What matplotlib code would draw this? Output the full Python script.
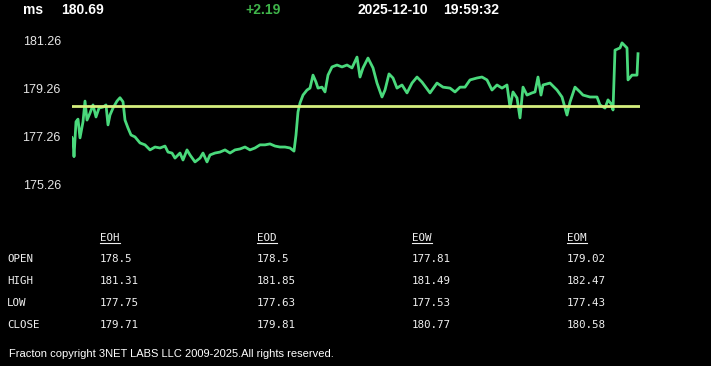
import matplotlib.pyplot as plt
from matplotlib.lines import Line2D

# header
symbol = "ms"
last_price = "180.69"
change = "+2.19"
date_str = "2025-12-10"
time_str = "19:59:32"

# price trace (t = sample step, price)
t = [0, 1, 2, 4, 6, 8, 11, 13, 15, 18, 21, 24, 27, 31, 34, 36, 38, 41, 45, 48,
     51, 53, 56, 59, 63, 68, 73, 78, 83, 88, 93, 96, 100, 103, 108, 111, 115, 118,
     123, 128, 131, 135, 138, 143, 148, 153, 158, 163, 168, 173, 178, 183, 188, 193,
     198, 203, 208, 213, 218, 222, 224, 226, 228, 231, 235, 238, 241, 244, 246, 250,
     253, 256, 260, 265, 270, 275, 280, 285, 288, 291, 296, 301, 305, 310, 313, 317,
     321, 325, 330, 335, 340, 345, 350, 358, 365, 371, 378, 383, 388, 393, 398, 405,
     410, 415, 420, 425, 430, 435, 438, 441, 445, 448, 451, 455, 460, 463, 466, 469,
     471, 478, 485, 490, 495, 498, 503, 508, 511, 518, 525, 528, 533, 536, 540, 541,
     543, 548, 550, 555, 556, 560, 565, 566]
price = [177.20, 177.10, 176.41, 177.86, 177.97, 177.19, 177.86, 178.72, 177.93, 178.22,
         178.56, 178.06, 178.43, 178.47, 178.56, 177.73, 178.14, 178.43, 178.72, 178.86,
         178.69, 177.93, 177.60, 177.31, 177.23, 176.98, 176.90, 176.69, 176.81, 176.77,
         176.85, 176.60, 176.56, 176.35, 176.56, 176.27, 176.69, 176.48, 176.19, 176.35,
         176.56, 176.19, 176.48, 176.56, 176.60, 176.69, 176.56, 176.69, 176.73, 176.81,
         176.69, 176.77, 176.90, 176.90, 176.94, 176.85, 176.81, 176.81, 176.77, 176.64,
         177.31, 178.27, 178.64, 178.97, 179.18, 179.26, 179.80, 179.51, 179.26, 179.30,
         179.10, 179.80, 180.14, 180.22, 180.14, 180.22, 180.10, 180.55, 179.72, 180.10,
         180.51, 180.10, 179.47, 178.89, 179.18, 179.85, 179.68, 179.26, 179.39, 179.06,
         179.47, 179.72, 179.51, 179.06, 179.47, 179.30, 179.26, 179.10, 179.30, 179.30,
         179.60, 179.68, 179.72, 179.60, 179.18, 179.39, 179.26, 179.39, 178.47, 179.10,
         178.85, 178.02, 179.30, 178.97, 179.06, 179.10, 179.72, 178.97, 179.39, 179.47,
         179.18, 178.89, 178.14, 178.68, 179.30, 179.10, 178.97, 178.89, 178.89, 178.56,
         178.43, 178.77, 178.56, 178.35, 180.84, 180.93, 181.14, 180.93, 179.60, 179.80,
         179.80, 180.69]
ref_price = 178.5
yticks = [175.26, 177.26, 179.26, 181.26]

# table
cols = ["EOH", "EOD", "EOW", "EOM"]
rows = ["OPEN", "HIGH", "LOW", "CLOSE"]
eoh = ["178.5", "181.31", "177.75", "179.71"]
eod = ["178.5", "181.85", "177.63", "179.81"]
eow = ["177.81", "181.49", "177.53", "180.77"]
eom = ["179.02", "182.47", "177.43", "180.58"]
footer = "Fracton copyright 3NET LABS LLC 2009-2025.All rights reserved."

W, H = 711, 366
fig = plt.figure(figsize=(W / 100, H / 100), dpi=100, facecolor="black")
ax = fig.add_axes([72 / W, 1 - 195 / H, 568 / W, 165 / H], facecolor="black")
ax.plot(t, price, color="#4ad97c", lw=2.0)
ax.axhline(ref_price, color="#d6ef7e", lw=2)
ax.set_xlim(0, 568)
ax.set_ylim(174.815, 181.676)
ax.set_xticks([])
ax.set_yticks(yticks)
ax.set_yticklabels([f"{v:.2f}" for v in yticks], fontsize=9, color="#e6e6e6",
                   family="Liberation Sans")
ax.tick_params(axis="y", length=0, pad=8)
for s in ax.spines.values():
    s.set_visible(False)


def px(x, y):
    return x / W, 1 - y / H


hdr = dict(fontsize=10, fontweight="bold", family="Liberation Sans", va="center")
fig.text(*px(23, 9.5), symbol, color="white", **hdr)
fig.text(*px(61, 9.5), last_price, color="white", **hdr)
fig.text(*px(245, 9.5), change, color="#3fb54a", **hdr)
fig.text(*px(358, 9.5), date_str, color="white", **hdr)
fig.text(*px(443, 9.5), time_str, color="white", **hdr)

mono = dict(fontsize=7.8, family="DejaVu Sans Mono", color="#f0f0f0", va="center")
col_x = [100, 257, 412, 567]
row_y = [259.5, 280.5, 302.5, 324.5]
for cx, name, vals in zip(col_x, cols, [eoh, eod, eow, eom]):
    fig.text(*px(cx, 238), name, **mono)
    fig.add_artist(Line2D([cx / W, (cx + 20) / W], [1 - 243 / H] * 2,
                          color="#f0f0f0", lw=0.8))
    for ry, v in zip(row_y, vals):
        fig.text(*px(cx, ry), v, **mono)
for ry, r in zip(row_y, rows):
    fig.text(*px(7, ry), r, **mono)

fig.text(*px(9, 354), footer, fontsize=8, family="Liberation Sans",
         color="white", va="center")

fig.savefig("out.png", dpi=100, facecolor="black")
